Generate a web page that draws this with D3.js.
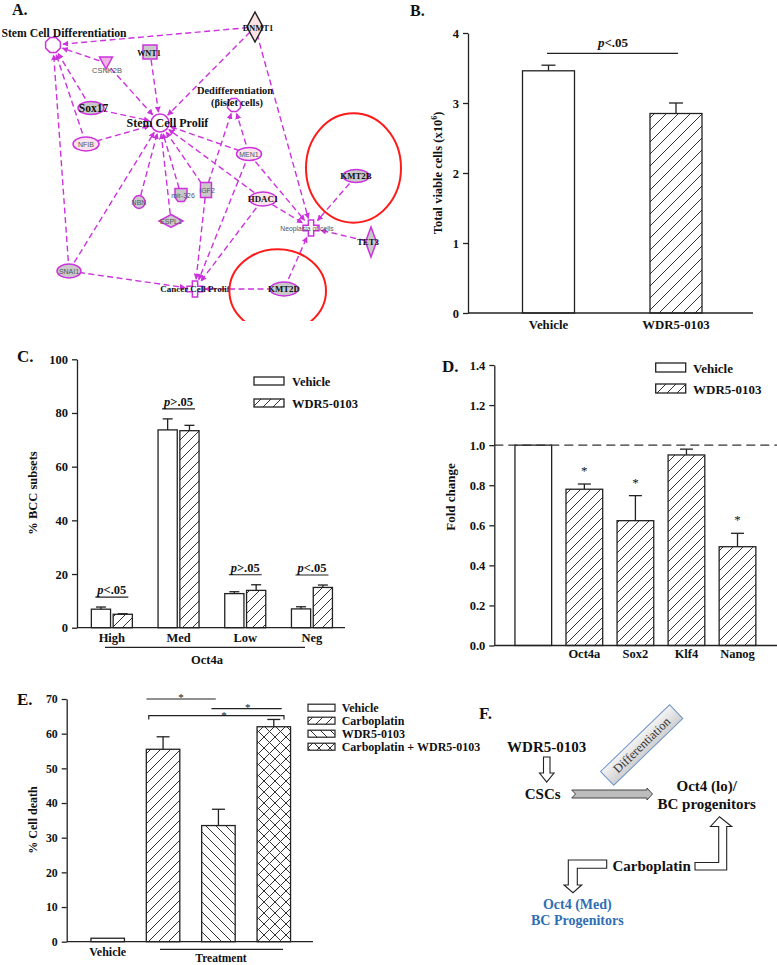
<!DOCTYPE html>
<html><head><meta charset="utf-8">
<script src="https://cdn.jsdelivr.net/npm/d3@7"></script>
<style>
html,body{margin:0;padding:0;background:#fff;}
svg{display:block;font-family:"Liberation Serif","Times New Roman",serif;}
</style></head><body>
<svg id="fig" width="777" height="965"></svg>
<script>
// ================= DATA =================
// Panel B
const bCategories = ["Vehicle", "WDR5-0103"];
const bMeans = [3.46, 2.85];
const bErrors = [0.08, 0.15];
const bTicks = [0, 1, 2, 3, 4];
const bPvalue = "<.05";
// Panel C
const cGroups = ["High", "Med", "Low", "Neg"];
const cSeries = ["Vehicle", "WDR5-0103"];
const cVehicle = [6.9, 73.7, 12.7, 7.0];
const cVehicleErr = [0.8, 4.1, 0.7, 0.8];
const cWdr = [5.0, 73.4, 13.9, 15.0];
const cWdrErr = [0.2, 2.0, 2.1, 0.9];
const cPvalues = ["<.05", ">.05", ">.05", "<.05"];
const cTicks = [0, 20, 40, 60, 80, 100];
// Panel D
const dGenes = ["Oct4a", "Sox2", "Klf4", "Nanog"];
const dVehicle = 1.0;
const dWdr = [0.78, 0.623, 0.951, 0.493];
const dWdrErr = [0.026, 0.125, 0.029, 0.067];
const dStars = ["*", "*", "", "*"];
const dTicks = [0, 0.2, 0.4, 0.6, 0.8, 1.0, 1.2, 1.4];
// Panel E
const eCategories = ["Vehicle", "Carboplatin", "WDR5-0103", "Carboplatin + WDR5-0103"];
const eMeans = [1.0, 55.5, 33.5, 62.0];
const eErrors = [0, 3.6, 4.7, 2.1];
const eTicks = [0, 10, 20, 30, 40, 50, 60, 70];
// Panel A network (layout of the pathway diagram)
const netNodes = [
  {id:"SCD", shape:"oct", x:53, y:45, w:16, h:16, fill:"#fff", pad:9},
  {id:"DNMT1", shape:"diamond", x:255, y:27, w:16, h:30, fill:"#fbe3e3", stroke:"#222", pad:7},
  {id:"WNT1", shape:"rect", x:150, y:52, w:14, h:14, fill:"#c9c9c9", pad:8},
  {id:"CSNK2B", shape:"tri", x:106, y:63, w:13, h:12, fill:"#efb3e6", pad:7},
  {id:"Sox17", shape:"ell", x:91, y:108, w:26, h:13, fill:"#c9c9c9", pad:11},
  {id:"SCP", shape:"circ", x:160, y:123, w:18, h:18, fill:"#fff", pad:10},
  {id:"DED", shape:"oct", x:234, y:105, w:14, h:14, fill:"#fff", pad:8},
  {id:"NFIB", shape:"ell", x:86, y:144, w:26, h:14, fill:"#fde3ec", pad:11},
  {id:"MEN1", shape:"ell", x:249, y:154, w:25, h:13, fill:"#fde3ec", pad:10},
  {id:"NBN", shape:"ell", x:139, y:202, w:12, h:13, fill:"#c9c9c9", pad:7},
  {id:"MIR", shape:"cup", x:181, y:195, w:12, h:13, fill:"#c9c9c9", pad:7},
  {id:"IGF2", shape:"rect", x:206, y:190, w:11, h:15, fill:"#c9c9c9", pad:8},
  {id:"ESPL1", shape:"diamond", x:171, y:221, w:24, h:13, fill:"#c9c9c9", pad:7},
  {id:"HDAC1", shape:"ell", x:263, y:199, w:27, h:14, fill:"#fde3ec", pad:11},
  {id:"KMT2B", shape:"ell", x:356, y:176, w:26, h:13, fill:"#c9c9c9", pad:10},
  {id:"NEO", shape:"cross", x:311, y:228, w:16, h:16, fill:"#fff", pad:9},
  {id:"TET3", shape:"diamond", x:371, y:242, w:11, h:30, fill:"#c9c9c9", pad:6},
  {id:"SNAI1", shape:"ell", x:69, y:271, w:24, h:14, fill:"#c9c9c9", pad:10},
  {id:"CCP", shape:"cross", x:195, y:289, w:16, h:16, fill:"#fff", pad:9},
  {id:"KMT2D", shape:"ell", x:284, y:289, w:28, h:14, fill:"#c9c9c9", pad:11}
];
const netLabels = [
  {text:"Stem Cell Differentiation", x:64, y:37, size:11.7, bold:true},
  {text:"DNMT1", x:258, y:31, size:8.6, bold:true},
  {text:"WNT1", x:149, y:56, size:8.2, bold:true},
  {text:"CSNK2B", x:107, y:73, size:7.5, bold:false},
  {text:"Sox17", x:93.5, y:111.5, size:11.5, bold:true},
  {text:"Stem Cell Prolif", x:167.5, y:127, size:12, bold:true},
  {text:"Dedifferentiation", x:235, y:93.5, size:10.4, bold:true},
  {text:"(βislet cells)", x:237, y:106, size:10.4, bold:true},
  {text:"NFIB", x:86, y:146.5, size:7, bold:false},
  {text:"MEN1", x:249, y:156.5, size:7, bold:false},
  {text:"NBN", x:139, y:204.5, size:7, bold:false},
  {text:"mir-326", x:183, y:197.5, size:7, bold:false},
  {text:"IGF2", x:207, y:192.5, size:7, bold:false},
  {text:"ESPL1", x:171, y:223.5, size:7, bold:false},
  {text:"HDAC1", x:263, y:202, size:8.8, bold:true},
  {text:"KMT2B", x:356, y:179, size:8.8, bold:true},
  {text:"Neoplasia of cells", x:307, y:230.5, size:6.8, bold:false},
  {text:"TET3", x:368, y:245, size:8.8, bold:true},
  {text:"SNAI1", x:69, y:273.5, size:7, bold:false},
  {text:"Cancer Cell Prolif", x:195, y:292, size:9, bold:true},
  {text:"KMT2D", x:284, y:292, size:8.8, bold:true}
];
const netEdges = [
  ["DNMT1","SCD"],["DNMT1","SCP"],["DNMT1","NEO"],
  ["CSNK2B","SCD"],["CSNK2B","SCP"],["WNT1","SCP"],
  ["Sox17","SCD"],["Sox17","SCP"],["NFIB","SCD"],["NFIB","SCP"],
  ["SNAI1","SCD"],["SNAI1","SCP"],["SNAI1","CCP"],
  ["NBN","SCP"],["ESPL1","SCP"],["MIR","SCP"],
  ["IGF2","SCP"],["IGF2","DED"],["IGF2","CCP"],
  ["MEN1","SCP"],["MEN1","DED"],["MEN1","CCP"],["MEN1","NEO"],
  ["HDAC1","SCP"],["HDAC1","CCP"],["HDAC1","NEO"],
  ["KMT2B","NEO"],["TET3","NEO"],["KMT2D","NEO"],["KMT2D","CCP"]
];

// ================= DRAW =================
const svg = d3.select("#fig");
const defs = svg.append("defs");
const INK = "#222";
const SERIF = "Liberation Serif, Times New Roman, serif";

function hatch(id, size, dirs) {
  const p = defs.append("pattern").attr("id", id).attr("patternUnits", "userSpaceOnUse")
    .attr("width", size).attr("height", size);
  p.append("rect").attr("width", size).attr("height", size).attr("fill", "#fff");
  let d = "";
  if (dirs.includes("f")) d += `M-1,1 L1,-1 M0,${size} L${size},0 M${size-1},${size+1} L${size+1},${size-1} `;
  if (dirs.includes("b")) d += `M-1,${size-1} L1,${size+1} M0,0 L${size},${size} M${size-1},-1 L${size+1},1 `;
  p.append("path").attr("d", d).attr("stroke", "#333").attr("stroke-width", 1).attr("fill", "none");
}
hatch("fwd10", 10, "f"); hatch("fwd12", 12, "f"); hatch("back10", 10, "b"); hatch("cross11", 11, "fb");

defs.append("marker").attr("id", "arr").attr("viewBox", "0 0 10 10").attr("refX", 9).attr("refY", 5)
  .attr("markerWidth", 6).attr("markerHeight", 6).attr("markerUnits", "userSpaceOnUse").attr("orient", "auto")
  .append("path").attr("d", "M0,0 L10,5 L0,10 z").attr("fill", "#cc33dd");

const grad = defs.append("linearGradient").attr("id", "diffGrad").attr("x1", 0).attr("y1", 0).attr("x2", 0).attr("y2", 1);
grad.append("stop").attr("offset", "0%").attr("stop-color", "#f4f4f4");
grad.append("stop").attr("offset", "100%").attr("stop-color", "#cfcfcf");

function txt(g, s, x, y, size, opts = {}) {
  return g.append("text").attr("x", x).attr("y", y).attr("font-family", SERIF)
    .attr("font-size", size).attr("font-weight", opts.weight || "bold")
    .attr("text-anchor", opts.anchor || "middle").attr("fill", opts.fill || "#111").text(s);
}
function yAxis(g, scale, x, ticks, size, fmt) {
  const ax = d3.axisLeft(scale).tickValues(ticks).tickSize(5).tickSizeOuter(0).tickPadding(4);
  if (fmt) ax.tickFormat(fmt);
  const a = g.append("g").attr("transform", `translate(${x},0)`).call(ax)
    .attr("font-family", SERIF).attr("font-size", size).attr("font-weight", "bold");
  a.select(".domain").attr("stroke", INK).attr("stroke-width", 1.3);
  a.selectAll(".tick line").attr("stroke", INK).attr("stroke-width", 1.3);
  a.selectAll(".tick text").attr("fill", "#111");
  return a;
}
function rotLabel(g, s, x, y, size) {
  return g.append("text").attr("transform", `translate(${x},${y}) rotate(-90)`)
    .attr("font-family", SERIF).attr("font-size", size).attr("font-weight", "bold")
    .attr("text-anchor", "middle").attr("fill", "#111").text(s);
}
function pText(g, s, x, y, size) {
  const t = g.append("text").attr("x", x).attr("y", y).attr("font-family", SERIF).attr("font-size", size)
    .attr("font-weight", "bold").attr("text-anchor", "middle").attr("fill", "#111");
  t.append("tspan").attr("font-style", "italic").text("p");
  t.append("tspan").text(s);
  return t;
}

// ---------------- Panel A ----------------
const gA = svg.append("g");
defs.append("clipPath").attr("id", "clipA").append("rect").attr("x", 0).attr("y", 0).attr("width", 410).attr("height", 321);
txt(gA, "A.", 12, 15, 16, {anchor: "start"});
const nodeById = {};
netNodes.forEach(n => nodeById[n.id] = n);
const MAG = "#cc33dd";
gA.append("g").selectAll("line").data(netEdges).join("line")
  .each(function(e) {
    const s = nodeById[e[0]], t = nodeById[e[1]];
    const dx = t.x - s.x, dy = t.y - s.y, L = Math.hypot(dx, dy);
    const ux = dx / L, uy = dy / L;
    d3.select(this).attr("x1", s.x + ux * s.pad).attr("y1", s.y + uy * s.pad)
      .attr("x2", t.x - ux * (t.pad + 1)).attr("y2", t.y - uy * (t.pad + 1));
  })
  .attr("stroke", MAG).attr("stroke-width", 1.4).attr("stroke-dasharray", "6,3.5")
  .attr("marker-end", "url(#arr)");

function shapePath(n) {
  const {x, y, w, h} = n;
  if (n.shape === "oct") {
    const r = w / 2;
    return d3.range(8).map(i => { const a = Math.PI / 8 + i * Math.PI / 4; return [x + r * Math.cos(a), y + r * Math.sin(a)]; });
  }
  if (n.shape === "diamond") return [[x, y - h/2], [x + w/2, y], [x, y + h/2], [x - w/2, y]];
  if (n.shape === "rect") return [[x - w/2, y - h/2], [x + w/2, y - h/2], [x + w/2, y + h/2], [x - w/2, y + h/2]];
  if (n.shape === "tri") return [[x - w/2, y - h/2], [x + w/2, y - h/2], [x, y + h/2]];
  if (n.shape === "cup") return [[x - w/2, y - h/2], [x + w/2, y - h/2], [x + w/2, y + h/6], [x + w/4, y + h/2], [x - w/4, y + h/2], [x - w/2, y + h/6]];
  if (n.shape === "cross") {
    const a = w / 6, b = w / 2;
    return [[x - a, y - b], [x + a, y - b], [x + a, y - a], [x + b, y - a], [x + b, y + a], [x + a, y + a], [x + a, y + b], [x - a, y + b], [x - a, y + a], [x - b, y + a], [x - b, y - a], [x - a, y - a]];
  }
  return null;
}
const nodeG = gA.append("g");
netNodes.forEach(n => {
  const stroke = n.stroke || MAG;
  if (n.shape === "ell" || n.shape === "circ") {
    nodeG.append("ellipse").attr("cx", n.x).attr("cy", n.y).attr("rx", n.w / 2).attr("ry", n.h / 2)
      .attr("fill", n.fill).attr("stroke", stroke).attr("stroke-width", 1.5);
  } else {
    nodeG.append("polygon").attr("points", shapePath(n).map(p => p.join(",")).join(" "))
      .attr("fill", n.fill).attr("stroke", stroke).attr("stroke-width", 1.5);
  }
});
netLabels.forEach(l => {
  if (l.bold) txt(gA, l.text, l.x, l.y, l.size, {fill: "#111"});
  else gA.append("text").attr("x", l.x).attr("y", l.y).attr("text-anchor", "middle")
    .attr("font-family", "Liberation Sans, Arial, sans-serif").attr("font-size", l.size).attr("fill", "#555").text(l.text);
});
const redG = gA.append("g").attr("clip-path", "url(#clipA)");
redG.append("ellipse").attr("cx", 353.5).attr("cy", 168).attr("rx", 47.5).attr("ry", 54.7)
  .attr("fill", "none").attr("stroke", "#ff1a1a").attr("stroke-width", 2);
redG.append("ellipse").attr("cx", 277.7).attr("cy", 291).attr("rx", 48.3).attr("ry", 41.7)
  .attr("fill", "none").attr("stroke", "#ff1a1a").attr("stroke-width", 2);

// ---------------- Panel B ----------------
const gB = svg.append("g");
txt(gB, "B.", 410, 16, 16, {anchor: "start"});
const yB = d3.scaleLinear().domain([0, 4]).range([313, 33]);
const xB = d3.scalePoint().domain(bCategories).range([548.5, 676]);
const bBarW = 52;
gB.selectAll("rect.bar").data(bCategories).join("rect")
  .attr("x", c => xB(c) - bBarW / 2).attr("y", (c, i) => yB(bMeans[i]))
  .attr("width", bBarW).attr("height", (c, i) => yB(0) - yB(bMeans[i]))
  .attr("fill", (c, i) => i === 0 ? "#fff" : "url(#fwd12)").attr("stroke", INK).attr("stroke-width", 1.3);
bCategories.forEach((c, i) => {
  const top = yB(bMeans[i] + bErrors[i]);
  gB.append("line").attr("x1", xB(c)).attr("x2", xB(c)).attr("y1", yB(bMeans[i])).attr("y2", top).attr("stroke", INK).attr("stroke-width", 1.3);
  gB.append("line").attr("x1", xB(c) - 7).attr("x2", xB(c) + 7).attr("y1", top).attr("y2", top).attr("stroke", INK).attr("stroke-width", 1.3);
  txt(gB, c, xB(c), 329, 12.8);
});
gB.append("line").attr("x1", 468).attr("x2", 753).attr("y1", yB(0)).attr("y2", yB(0)).attr("stroke", INK).attr("stroke-width", 1.3);
yAxis(gB, yB, 468, bTicks, 12.5, d3.format("d"));
gB.append("line").attr("x1", xB(bCategories[0]) - 1.5).attr("x2", xB(bCategories[1]) + 2)
  .attr("y1", yB(3.71)).attr("y2", yB(3.71)).attr("stroke", INK).attr("stroke-width", 1.3);
pText(gB, bPvalue, 613, 47, 13);
const bl = gB.append("text").attr("transform", "translate(442,173) rotate(-90)").attr("font-family", SERIF)
  .attr("font-size", 12.5).attr("font-weight", "bold").attr("text-anchor", "middle").attr("fill", "#111");
bl.append("tspan").text("Total viable cells (x10");
bl.append("tspan").attr("dy", -5).attr("font-size", 8).text("6");
bl.append("tspan").attr("dy", 5).text(")");

// ---------------- Panel C ----------------
const gC = svg.append("g");
txt(gC, "C.", 17, 362, 17, {anchor: "start"});
const yC = d3.scaleLinear().domain([0, 100]).range([627.7, 359.3]);
const xC = d3.scaleBand().domain(cGroups).range([78.5, 345.3]);
const xCi = d3.scaleBand().domain(cSeries).range([-20.5, 20.5]).paddingInner(0.12);
const cVals = [cVehicle, cWdr], cErrs = [cVehicleErr, cWdrErr];
const cFill = ["#fff", "url(#fwd10)"];
cGroups.forEach((grp, gi) => {
  const cx = xC(grp) + xC.bandwidth() / 2;
  cSeries.forEach((s, si) => {
    const v = cVals[si][gi], e = cErrs[si][gi];
    const x0 = cx + xCi(s);
    gC.append("rect").attr("x", x0).attr("y", yC(v)).attr("width", xCi.bandwidth()).attr("height", yC(0) - yC(v))
      .attr("fill", cFill[si]).attr("stroke", INK).attr("stroke-width", 1.3);
    const mx = x0 + xCi.bandwidth() / 2, top = yC(v + e);
    gC.append("line").attr("x1", mx).attr("x2", mx).attr("y1", yC(v)).attr("y2", top).attr("stroke", INK).attr("stroke-width", 1.3);
    gC.append("line").attr("x1", mx - 5).attr("x2", mx + 5).attr("y1", top).attr("y2", top).attr("stroke", INK).attr("stroke-width", 1.3);
  });
  const maxTop = Math.max(cVehicle[gi] + cVehicleErr[gi], cWdr[gi] + cWdrErr[gi]);
  const uy = yC(maxTop) - 10;
  gC.append("line").attr("x1", cx - 16.5).attr("x2", cx + 16.5).attr("y1", uy).attr("y2", uy).attr("stroke", INK).attr("stroke-width", 1.2);
  pText(gC, cPvalues[gi], cx, uy - 3, 12.5);
  txt(gC, grp, cx, 642, 12.5);
});
gC.append("line").attr("x1", 77).attr("x2", 345).attr("y1", yC(0)).attr("y2", yC(0)).attr("stroke", INK).attr("stroke-width", 1.3);
yAxis(gC, yC, 77, cTicks, 12.5);
gC.append("line").attr("x1", 105).attr("x2", 305).attr("y1", 647.3).attr("y2", 647.3).attr("stroke", INK).attr("stroke-width", 1.2);
txt(gC, "Oct4a", 207, 664, 12.5);
rotLabel(gC, "% BCC subsets", 36.5, 493, 12.5);
cSeries.forEach((s, si) => {
  const ly = 377 + si * 22;
  gC.append("rect").attr("x", 254).attr("y", ly).attr("width", 30).attr("height", 8)
    .attr("fill", cFill[si]).attr("stroke", INK).attr("stroke-width", 1.3);
  txt(gC, s, 292, ly + 8.5, 12.5, {anchor: "start"});
});

// ---------------- Panel D ----------------
const gD = svg.append("g");
txt(gD, "D.", 442, 371.5, 17, {anchor: "start"});
const yD = d3.scaleLinear().domain([0, 1.4]).range([645.5, 365]);
const xD = d3.scalePoint().domain(["Vehicle"].concat(dGenes)).range([533.3, 737.5]);
const dBarW = 36.7;
gD.append("rect").attr("x", xD("Vehicle") - dBarW / 2).attr("y", yD(dVehicle)).attr("width", dBarW)
  .attr("height", yD(0) - yD(dVehicle)).attr("fill", "#fff").attr("stroke", INK).attr("stroke-width", 1.3);
dGenes.forEach((g, i) => {
  const x = xD(g);
  gD.append("rect").attr("x", x - dBarW / 2).attr("y", yD(dWdr[i])).attr("width", dBarW)
    .attr("height", yD(0) - yD(dWdr[i])).attr("fill", "url(#fwd10)").attr("stroke", INK).attr("stroke-width", 1.3);
  const top = yD(dWdr[i] + dWdrErr[i]);
  gD.append("line").attr("x1", x).attr("x2", x).attr("y1", yD(dWdr[i])).attr("y2", top).attr("stroke", INK).attr("stroke-width", 1.3);
  gD.append("line").attr("x1", x - 6.5).attr("x2", x + 6.5).attr("y1", top).attr("y2", top).attr("stroke", INK).attr("stroke-width", 1.3);
  if (dStars[i]) txt(gD, dStars[i], x, top - 9, 13, {weight: "normal"});
  txt(gD, g, x, 658, 12.5);
});
gD.append("line").attr("x1", 494.3).attr("x2", 777).attr("y1", yD(0)).attr("y2", yD(0)).attr("stroke", INK).attr("stroke-width", 1.3);
gD.append("line").attr("x1", 494.3).attr("x2", 777).attr("y1", yD(1.0)).attr("y2", yD(1.0))
  .attr("stroke", "#333").attr("stroke-width", 1.3).attr("stroke-dasharray", "9,5");
yAxis(gD, yD, 494.3, dTicks, 12.5, d3.format(".1f"));
rotLabel(gD, "Fold change", 454.5, 497, 13);
["Vehicle", "WDR5-0103"].forEach((s, si) => {
  const ly = 363 + si * 21;
  gD.append("rect").attr("x", 655.7).attr("y", ly).attr("width", 30).attr("height", 9)
    .attr("fill", si === 0 ? "#fff" : "url(#fwd10)").attr("stroke", INK).attr("stroke-width", 1.3);
  txt(gD, s, 693, ly + 9.5, 13, {anchor: "start"});
});

// ---------------- Panel E ----------------
const gE = svg.append("g");
txt(gE, "E.", 17, 705, 17, {anchor: "start"});
const yE = d3.scaleLinear().domain([0, 70]).range([941.7, 699]);
const xE = d3.scalePoint().domain(eCategories).range([107.7, 273.8]);
const eBarW = 33.5;
const eFill = ["#fff", "url(#fwd10)", "url(#back10)", "url(#cross11)"];
eCategories.forEach((c, i) => {
  const x = xE(c);
  gE.append("rect").attr("x", x - eBarW / 2).attr("y", yE(eMeans[i])).attr("width", eBarW)
    .attr("height", yE(0) - yE(eMeans[i])).attr("fill", eFill[i]).attr("stroke", INK).attr("stroke-width", 1.3);
  if (eErrors[i] > 0) {
    const top = yE(eMeans[i] + eErrors[i]);
    gE.append("line").attr("x1", x).attr("x2", x).attr("y1", yE(eMeans[i])).attr("y2", top).attr("stroke", INK).attr("stroke-width", 1.3);
    gE.append("line").attr("x1", x - 6.5).attr("x2", x + 6.5).attr("y1", top).attr("y2", top).attr("stroke", INK).attr("stroke-width", 1.3);
  }
});
gE.append("line").attr("x1", 66.7).attr("x2", 313).attr("y1", yE(0)).attr("y2", yE(0)).attr("stroke", INK).attr("stroke-width", 1.3);
yAxis(gE, yE, 66.7, eTicks, 11.8);
rotLabel(gE, "% Cell death", 37, 820, 12);
txt(gE, "Vehicle", xE(eCategories[0]), 955.5, 12);
gE.append("line").attr("x1", 160).attr("x2", 283).attr("y1", 949.3).attr("y2", 949.3).attr("stroke", INK).attr("stroke-width", 1.2);
txt(gE, "Treatment", 221, 961.5, 11.5);
// significance lines
const c1 = xE(eCategories[1]), c2 = xE(eCategories[2]), c3 = xE(eCategories[3]);
gE.append("line").attr("x1", c1 - 16.6).attr("x2", c2 - 2.7).attr("y1", 699).attr("y2", 699).attr("stroke", INK).attr("stroke-width", 1.2);
txt(gE, "*", (c1 - 16.6 + c2 - 2.7) / 2, 701, 11, {weight: "normal"});
gE.append("line").attr("x1", c2 - 7).attr("x2", c3 + 7.9).attr("y1", 708.7).attr("y2", 708.7).attr("stroke", INK).attr("stroke-width", 1.2);
txt(gE, "*", 247.7, 710.5, 11, {weight: "normal"});
gE.append("path").attr("d", `M${c1 - 14.3},719.5 V715.7 H${c3 + 10.2} V719.5`).attr("fill", "none").attr("stroke", INK).attr("stroke-width", 1.2);
txt(gE, "*", 224, 719, 11, {weight: "normal"});
eCategories.forEach((c, i) => {
  const ry = 707.7 + i * 13;
  gE.append("rect").attr("x", 308).attr("y", ry - 3.5).attr("width", 27).attr("height", 7)
    .attr("fill", eFill[i]).attr("stroke", INK).attr("stroke-width", 1.2);
  txt(gE, c, 341.7, ry + 4.3, 12, {anchor: "start"});
});

// ---------------- Panel F ----------------
const gF = svg.append("g");
txt(gF, "F.", 479, 719, 17, {anchor: "start"});
txt(gF, "WDR5-0103", 546.7, 752, 15);
gF.append("path").attr("d", "M543.5,757 H550 V773 H554 L546.7,782 L539.5,773 H543.5 Z")
  .attr("fill", "#fff").attr("stroke", "#222").attr("stroke-width", 1.1);
txt(gF, "CSCs", 542.7, 799, 15);
gF.append("path").attr("d", "M571.7,790 H647 V788 L652.5,794 L647,800 V798 H571.7 L575.5,794 Z")
  .attr("fill", "#bdbdbd").attr("stroke", "#444").attr("stroke-width", 1);
const dg = gF.append("g").attr("transform", "translate(641.7,745) rotate(-44)");
dg.append("rect").attr("x", -48).attr("y", -9.5).attr("width", 96).attr("height", 19)
  .attr("fill", "url(#diffGrad)").attr("stroke", "#6f95c8").attr("stroke-width", 1);
dg.append("text").attr("x", 0).attr("y", 4.3).attr("text-anchor", "middle").attr("font-family", SERIF)
  .attr("font-size", 12.5).attr("fill", "#333").text("Differentiation");
txt(gF, "Oct4 (lo)/", 706.7, 791, 15);
txt(gF, "BC progenitors", 706.7, 809, 15);
gF.append("path").attr("d", "M695,862.5 H718.7 V826.5 H710.5 L719.5,816.7 L731.7,826.5 H726.7 V870 H695 Z")
  .attr("fill", "#fff").attr("stroke", "#222").attr("stroke-width", 1.1);
txt(gF, "Carboplatin", 651.7, 871, 15);
gF.append("path").attr("d", "M606.7,860 H568.3 V885 H564 L573,892.7 L581.7,885 H577.3 V868.3 H606.7 Z")
  .attr("fill", "#fff").attr("stroke", "#222").attr("stroke-width", 1.1);
txt(gF, "Oct4 (Med)", 577.3, 909, 14, {fill: "#2f6eb5"});
txt(gF, "BC Progenitors", 577.3, 924.5, 14, {fill: "#2f6eb5"});
</script>
</body></html>
